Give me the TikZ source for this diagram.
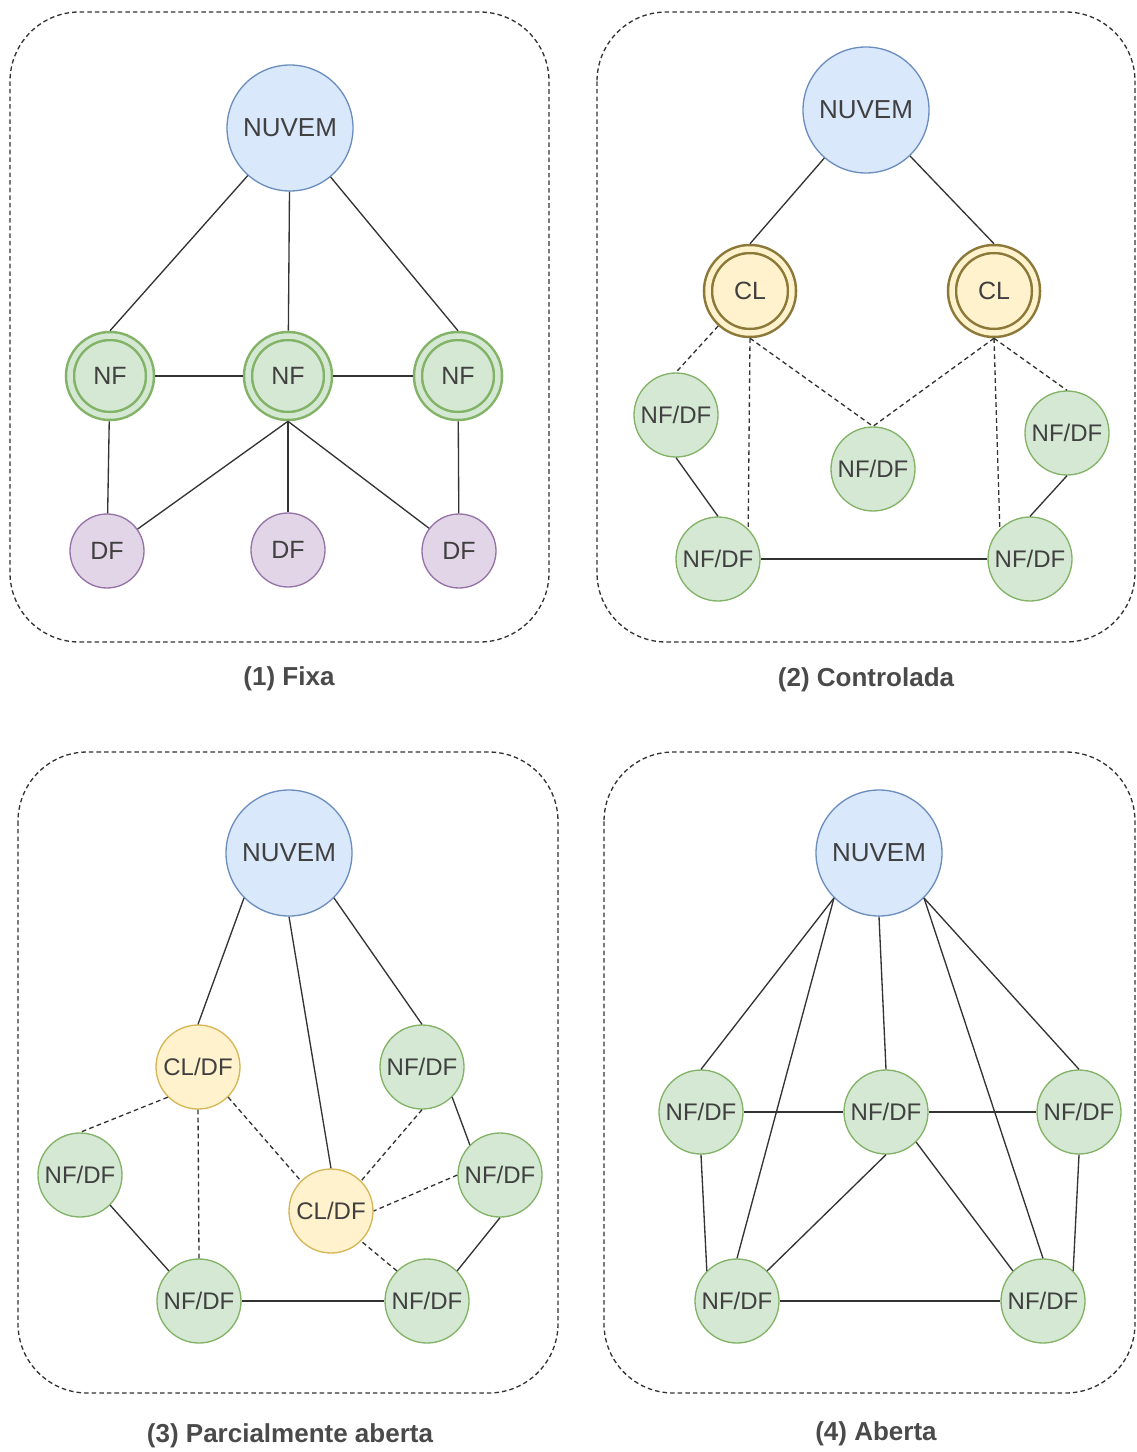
\documentclass[tikz,border=0pt]{standalone}
\usepackage{fontspec}
\setmainfont{Liberation Sans}

\definecolor{cloudfill}{HTML}{DAE8FC}
\definecolor{cloudline}{HTML}{6C8EBF}
\definecolor{greenfill}{HTML}{D5E8D4}
\definecolor{greenline}{HTML}{82B366}
\definecolor{violetfill}{HTML}{E1D5E7}
\definecolor{violetline}{HTML}{9673A6}
\definecolor{goldfill}{HTML}{FFF2CC}
\definecolor{goldline}{HTML}{D6B656}
\definecolor{ringline}{HTML}{8C7838}
\definecolor{inkgray}{HTML}{333333}
\definecolor{txtgray}{HTML}{404040}
\definecolor{capgray}{HTML}{4A4A4A}

\tikzset{
  base/.style={circle, inner sep=0pt, line width=1pt, text=txtgray,
    text depth=0pt, font=\fontsize{18}{20}\selectfont},
  cloud/.style={base, draw=cloudline, fill=cloudfill, minimum size=94.5pt,
    font=\fontsize{19.5}{22}\selectfont},
  fognode/.style={base, draw=greenline, fill=greenfill, minimum size=63pt},
  devnode/.style={base, draw=violetline, fill=violetfill, minimum size=55.5pt,
    font=\fontsize{18.75}{20}\selectfont},
  ctrlnode/.style={base, draw=goldline, fill=goldfill, minimum size=63pt},
  nfring/.style={base, draw=greenline, fill=greenfill, line width=1.9pt,
    double=greenfill, double distance=4.1pt, minimum size=60pt,
    outer sep=3.95pt, font=\fontsize{18.75}{20}\selectfont},
  clring/.style={base, draw=ringline, fill=goldfill, line width=1.9pt,
    double=goldfill, double distance=4.1pt, minimum size=63pt,
    outer sep=3.95pt, font=\fontsize{18.75}{20}\selectfont},
  link/.style={draw=inkgray, line width=1pt},
  dlink/.style={link, dash pattern=on 3.5pt off 2.5pt},
  frame/.style={draw=inkgray, line width=1pt, dash pattern=on 3.4pt off 2.3pt,
    rounded corners=52pt},
  caption/.style={text=capgray, font=\bfseries\fontsize{19.5}{22}\selectfont}
}

\begin{document}
\begin{tikzpicture}[x=0.75pt, y=-0.75pt]
\useasboundingbox (0,0) rectangle (1137,1452);

% dashed frames of the four panels
\draw[frame] (10,12) rectangle (549,642);
\draw[frame] (597,12) rectangle (1135,642);
\draw[frame] (18,752) rectangle (558,1393);
\draw[frame] (604,752) rectangle (1135,1393);

% ---------- (1) Fixa ----------
\node[cloud]   (n1)  at (290,128) {NUVEM};
\node[nfring]  (f1)  at (110,376) {NF};
\node[nfring]  (f2)  at (288,376) {NF};
\node[nfring]  (f3)  at (458,376) {NF};
\node[devnode] (d1)  at (107,551) {DF};
\node[devnode] (d2)  at (288,550) {DF};
\node[devnode] (d3)  at (459,551) {DF};
\draw[link] (n1) -- (f1.north);
\draw[link] (n1) -- (f2);
\draw[link] (n1) -- (f3.north);
\draw[link] (f1) -- (f2);
\draw[link] (f2) -- (f3);
\draw[link] (f1) -- (d1);
\draw[link] (f2.south) -- (d1);
\draw[link] (f2) -- (d2);
\draw[link] (f2.south) -- (d3);
\draw[link] (f3) -- (d3);
\node[caption] (cap1) at (289,679) {(1) Fixa};

% ---------- (2) Controlada ----------
\node[cloud]    (n2)  at (866,110) {NUVEM};
\node[clring]   (c21) at (750,291) {CL};
\node[clring]   (c22) at (994,291) {CL};
\node[fognode]  (a2)  at (676,415) {NF/DF};
\node[fognode]  (m2)  at (873,469) {NF/DF};
\node[fognode]  (r2)  at (1067,433) {NF/DF};
\node[fognode]  (bl2) at (718,559) {NF/DF};
\node[fognode]  (br2) at (1030,559) {NF/DF};
\draw[link] (n2) -- (c21.north);
\draw[link] (n2) -- (c22.north);
\draw[dlink] (c21) -- (a2.north);
\draw[dlink] (c21.south) -- (bl2.45);
\draw[dlink] (c21.south) -- (m2.north);
\draw[dlink] (c22.south) -- (m2.north);
\draw[dlink] (c22.south) -- (br2.135);
\draw[dlink] (c22.south) -- (r2.north);
\draw[link] (a2.south) -- (bl2.north);
\draw[link] (r2.south) -- (br2.north);
\draw[link] (bl2) -- (br2);
\node[caption] (cap2) at (866,680) {(2) Controlada};

% ---------- (3) Parcialmente aberta ----------
\node[cloud]    (n3)  at (289,853) {NUVEM};
\node[ctrlnode] (c31) at (198,1067) {CL/DF};
\node[ctrlnode] (c32) at (331,1211) {CL/DF};
\node[fognode]  (t3)  at (422,1067) {NF/DF};
\node[fognode]  (l3)  at (80,1175) {NF/DF};
\node[fognode]  (r3)  at (500,1175) {NF/DF};
\node[fognode]  (bl3) at (199,1301) {NF/DF};
\node[fognode]  (br3) at (427,1301) {NF/DF};
\draw[link] (n3.225) -- (c31.north);
\draw[link] (n3.south) -- (c32.north);
\draw[link] (n3.315) -- (t3.north);
\draw[link] (t3.315) -- (r3.135);
\draw[link] (r3.south) -- (br3.45);
\draw[link] (l3.315) -- (bl3.135);
\draw[link] (bl3) -- (br3);
\draw[dlink] (c31.225) -- (l3.north);
\draw[dlink] (c31.south) -- (bl3.north);
\draw[dlink] (c31.315) -- (c32.135);
\draw[dlink] (t3.south) -- (c32.45);
\draw[dlink] (r3.west) -- (c32.east);
\draw[dlink] (br3.135) -- (c32.315);
\node[caption] (cap3) at (290,1436) {(3) Parcialmente aberta};

% ---------- (4) Aberta ----------
\node[cloud]   (n4)  at (879,853) {NUVEM};
\node[fognode] (l4)  at (701,1112) {NF/DF};
\node[fognode] (m4)  at (886,1112) {NF/DF};
\node[fognode] (r4)  at (1079,1112) {NF/DF};
\node[fognode] (bl4) at (737,1301) {NF/DF};
\node[fognode] (br4) at (1043,1301) {NF/DF};
\draw[link] (n4.225) -- (l4.north);
\draw[link] (n4.225) -- (bl4.north);
\draw[link] (n4.south) -- (m4.north);
\draw[link] (n4.315) -- (br4.north);
\draw[link] (n4.315) -- (r4.north);
\draw[link] (l4) -- (m4);
\draw[link] (m4) -- (r4);
\draw[link] (l4.south) -- (bl4.135);
\draw[link] (r4.south) -- (br4.45);
\draw[link] (m4.south) -- (bl4.45);
\draw[link] (m4.315) -- (br4.135);
\draw[link] (bl4) -- (br4);
\node[caption] (cap4) at (876,1434) {(4) Aberta};
\end{tikzpicture}
\end{document}
